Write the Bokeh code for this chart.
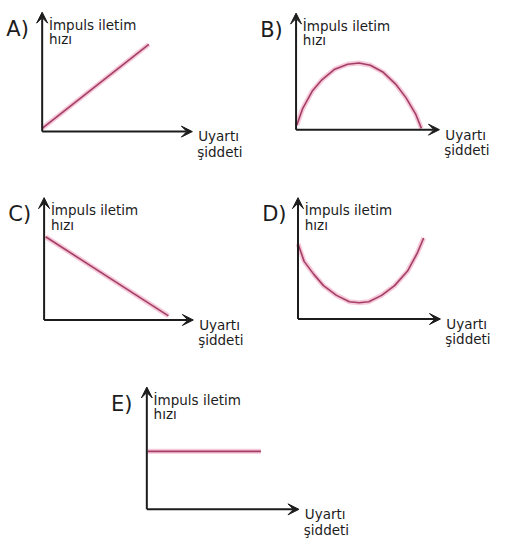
from bokeh.plotting import figure
from bokeh.models import Range1d, Arrow, VeeHead
from bokeh.core.properties import value
from bokeh.embed import file_html
from bokeh.resources import INLINE

# ---- texts ----
panel_letters = ["A)", "B)", "C)", "D)", "E)"]
y_label_lines = ["İmpuls iletim", "hızı"]
x_label_lines = ["Uyartı", "şiddeti"]

# ---- curve values (percent of axis length: x = Uyartı şiddeti, y = İmpuls iletim hızı) ----
a_x = [0, 71]
a_y = [2.7, 73]

b_x = [0.5, 4.5, 11.3, 18, 27, 36, 43.9, 51.8, 60.8, 69.8, 76.6, 83.3, 87.4]
b_y = [3.9, 17.8, 33.1, 42.8, 51.9, 56.1, 57.2, 55.3, 49.2, 38.6, 27.5, 13.6, 1.1]

c_x = [1, 83.3]
c_y = [68, 3.4]

d_x = [0, 4.3, 11.1, 17.9, 27, 36.1, 42.9, 49.7, 58.7, 67.8, 76.9, 83.7, 88.2]
d_y = [62, 47.5, 36.8, 27.5, 19.5, 14.2, 13.4, 14.2, 19.5, 27.5, 39.5, 54.2, 66.7]

e_x = [0.6, 75]
e_y = [47.4, 47.4]

series = [(a_x, a_y), (b_x, b_y), (c_x, c_y), (d_x, d_y), (e_x, e_y)]

# ---- layout of the panels (origin x, origin y, x-axis length, y-axis length) ----
panels = [
    (43, 135, 155, 123),
    (305, 133, 148, 120),
    (45, 329, 154, 126),
    (307, 328, 147, 125),
    (151, 524, 157, 126),
]

W, H = 501, 538
p = figure(width=W, height=H, x_range=Range1d(0, 517), y_range=Range1d(554, 0),
           output_backend="svg", toolbar_location=None, min_border=0,
           x_axis_location=None, y_axis_location=None)
p.grid.visible = False
p.outline_line_color = None
p.background_fill_color = "white"
p.border_fill_color = "white"

FONT = value("DejaVu Sans")
INK = "#1c1c1c"
CURVE = "#a53e66"
HALO = "#f2bcd0"

tx, ty, tt = [], [], []
lx, ly, lt = [], [], []

for (xs, ys), (ox, oy, xl, yl), letter in zip(series, panels, panel_letters):
    px = [ox + v / 100.0 * xl for v in xs]
    py = [oy - v / 100.0 * yl for v in ys]
    p.line(px, py, line_color=HALO, line_width=5, line_alpha=0.8)
    p.line(px, py, line_color=CURVE, line_width=1.6)

    # axes with arrowheads
    p.add_layout(Arrow(x_start=ox, y_start=oy, x_end=ox, y_end=oy - yl,
                       line_width=2, line_color=INK,
                       end=VeeHead(size=11, fill_color=INK, line_color=INK)))
    p.add_layout(Arrow(x_start=ox, y_start=oy, x_end=ox + xl, y_end=oy,
                       line_width=2, line_color=INK,
                       end=VeeHead(size=11, fill_color=INK, line_color=INK)))

    top = oy - yl
    lx.append(ox - 37); ly.append(top + 17); lt.append(letter)
    tx += [ox + 7, ox + 7]; ty += [top + 13, top + 28]; tt += y_label_lines
    tx += [ox + xl + 6, ox + xl + 5]; ty += [oy + 5, oy + 21]; tt += x_label_lines

p.text(x=lx, y=ly, text=lt, text_font=FONT, text_font_size="21px",
       text_baseline="alphabetic", text_align="left", text_color=INK)
p.text(x=tx, y=ty, text=tt, text_font=FONT, text_font_size="13.5px",
       text_baseline="alphabetic", text_align="left", text_color=INK)

open("out.html", "w").write(file_html(p, INLINE))
